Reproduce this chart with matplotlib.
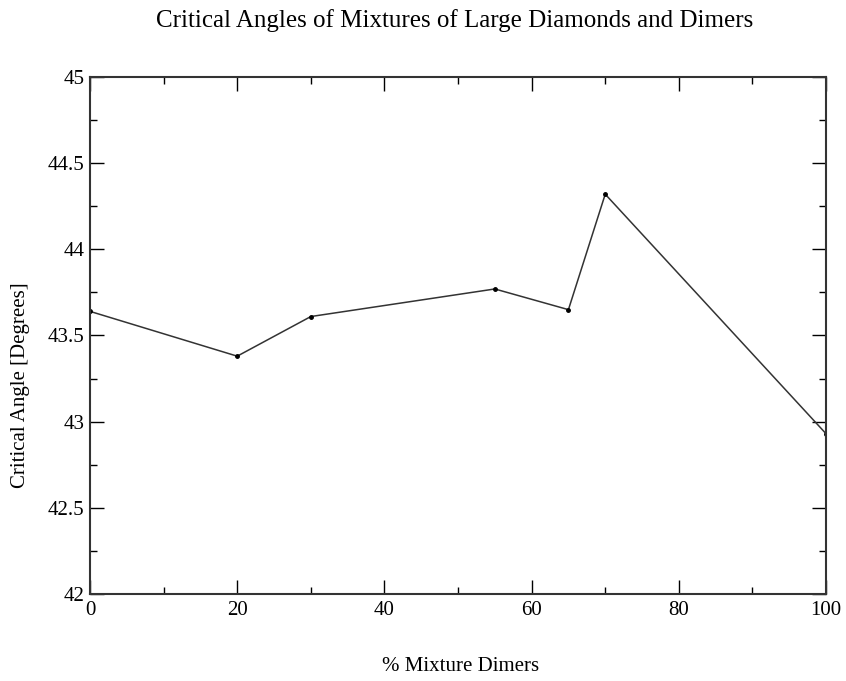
import matplotlib
matplotlib.use("Agg")
import matplotlib.pyplot as plt
from matplotlib.ticker import MultipleLocator

## Data ##
pct_dimers = [0, 20, 30, 55, 65, 70, 100]
crit_angle = [43.64, 43.38, 43.61, 43.77, 43.65, 44.32, 42.93]

plt.rcParams['font.family'] = ['Liberation Serif', 'DejaVu Serif']

fig = plt.figure(figsize=(8.46, 6.81), dpi=100)
ax = fig.add_axes([0.1064, 0.1278, 0.8700, 0.7591])

ax.plot(pct_dimers, crit_angle, color='#333333', linewidth=1.1,
        marker='o', markersize=2.5, markerfacecolor='black', markeredgecolor='black')

ax.set_xlim(0, 100)
ax.set_ylim(42, 45)
ax.xaxis.set_major_locator(MultipleLocator(20))
ax.xaxis.set_minor_locator(MultipleLocator(10))
ax.yaxis.set_major_locator(MultipleLocator(0.5))
ax.yaxis.set_minor_locator(MultipleLocator(0.25))
ax.tick_params(which='both', direction='in', top=True, right=True, labelsize=15)
ax.tick_params(axis='x', pad=5)
ax.tick_params(axis='y', pad=4)
ax.tick_params(which='major', length=10, width=1)
ax.tick_params(which='minor', length=5, width=1)
ax.yaxis.set_major_formatter(plt.FuncFormatter(lambda v, p: f"{v:g}"))

for s in ax.spines.values():
    s.set_linewidth(1.5)
    s.set_color('#333333')

fig.text(0.537, 0.970, "Critical Angles of Mixtures of Large Diamonds and Dimers",
         ha='center', va='center', fontsize=18)
fig.text(0.544, 0.021, "% Mixture Dimers", ha='center', va='center', fontsize=15)
fig.text(0.024, 0.435, "Critical Angle [Degrees]", ha='center', va='center',
         rotation=90, fontsize=15)

fig.savefig("out.png", dpi=100)
